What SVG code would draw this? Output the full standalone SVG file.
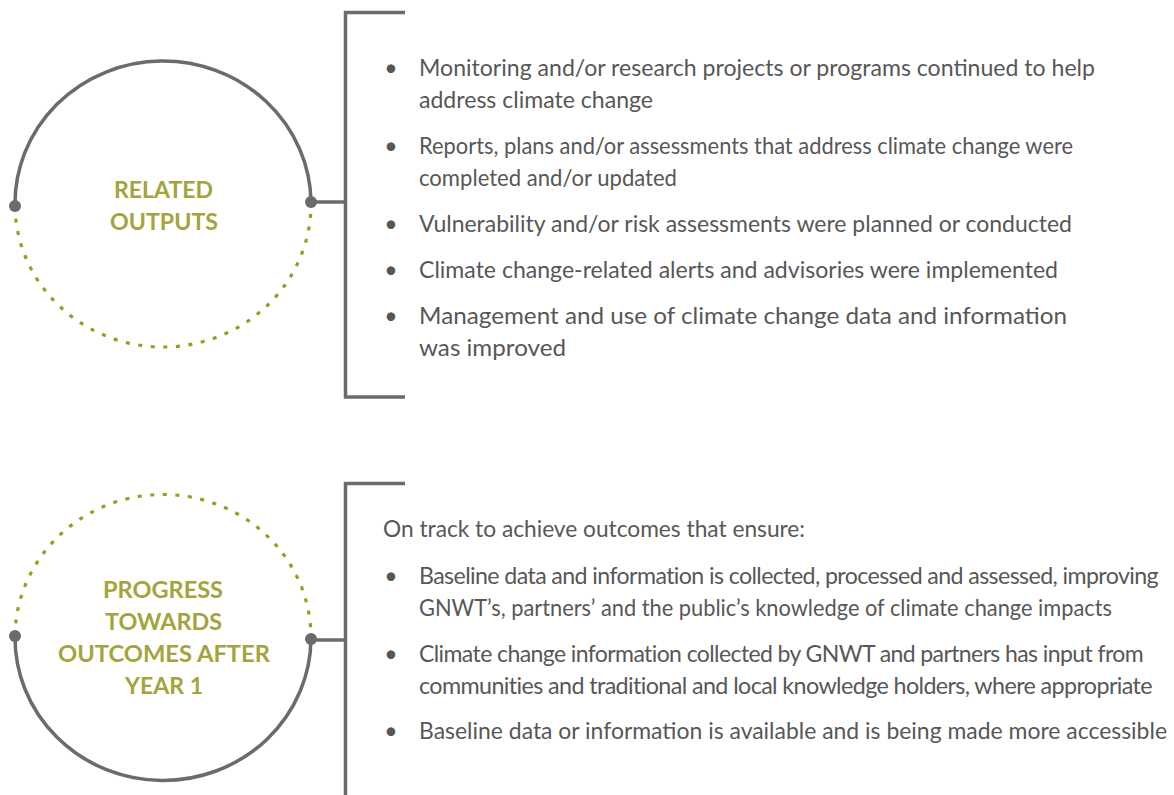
<svg xmlns="http://www.w3.org/2000/svg" width="1174" height="795" viewBox="0 0 1174 795">
  <style>
    .solid { fill: none; stroke: #6b6b6b; stroke-width: 3.5; }
    .dotted { fill: none; stroke: #9b9b20; stroke-width: 3.2; stroke-dasharray: 4 8.6; }
    .knob { fill: #6b6b6b; }
    .label { font-family: Lato, "Open Sans", "Liberation Sans", sans-serif; font-weight: 700; font-size: 22px; fill: #a3a43c; text-anchor: middle; }
    .body { font-family: Lato, "Open Sans", "Liberation Sans", sans-serif; font-size: 23px; fill: #575757; }
    .tight { letter-spacing: -0.6px; }
    .bullet { font-family: Lato, "Open Sans", "Liberation Sans", sans-serif; font-size: 23px; fill: #575757; text-anchor: middle; }
  </style>
  <rect width="1174" height="795" fill="#ffffff"/>

  <g id="connectors">
    <line class="solid" x1="311" y1="202" x2="346" y2="202"/>
    <line class="solid" x1="311" y1="640" x2="346" y2="640"/>
  </g>

  <g id="node-related-outputs">
    <path class="solid" d="M15 206 A148 143 0 0 1 311 202"/>
    <path class="dotted" d="M15 206 A148 143 0 0 0 311 202"/>
    <circle class="knob" cx="15" cy="206" r="6"/>
    <circle class="knob" cx="311" cy="202" r="6"/>
    <text class="label" x="163.5" y="198" textLength="99" lengthAdjust="spacingAndGlyphs">RELATED</text>
    <text class="label" x="164" y="230" textLength="108" lengthAdjust="spacingAndGlyphs">OUTPUTS</text>
  </g>

  <g id="node-outputs-list">
    <path class="solid" d="M405 12.5 H345.5 V397 H405"/>
    <text class="bullet" x="391" y="76">•</text>
    <text class="body" x="419" y="76" textLength="676" lengthAdjust="spacingAndGlyphs">Monitoring and/or research projects or programs continued to help</text>
    <text class="body" x="419" y="108" textLength="234" lengthAdjust="spacingAndGlyphs">address climate change</text>
    <text class="bullet" x="391" y="154">•</text>
    <text class="body" x="419" y="154" textLength="654" lengthAdjust="spacingAndGlyphs">Reports, plans and/or assessments that address climate change were</text>
    <text class="body" x="419" y="186" textLength="258" lengthAdjust="spacingAndGlyphs">completed and/or updated</text>
    <text class="bullet" x="391" y="232">•</text>
    <text class="body" x="419" y="232" textLength="653" lengthAdjust="spacingAndGlyphs">Vulnerability and/or risk assessments were planned or conducted</text>
    <text class="bullet" x="391" y="278">•</text>
    <text class="body" x="419" y="278" textLength="639" lengthAdjust="spacingAndGlyphs">Climate change-related alerts and advisories were implemented</text>
    <text class="bullet" x="391" y="324">•</text>
    <text class="body" x="419" y="324" textLength="648" lengthAdjust="spacingAndGlyphs">Management and use of climate change data and information</text>
    <text class="body" x="419" y="356" textLength="147" lengthAdjust="spacingAndGlyphs">was improved</text>
  </g>

  <g id="node-progress">
    <path class="dotted" d="M15 636 A148 143 0 0 1 311 639"/>
    <path class="solid" d="M15 636 A148 143 0 0 0 311 639"/>
    <circle class="knob" cx="15" cy="636" r="6"/>
    <circle class="knob" cx="311" cy="639" r="6"/>
    <text class="label" x="163" y="598" textLength="120" lengthAdjust="spacingAndGlyphs">PROGRESS</text>
    <text class="label" x="163.5" y="630" textLength="117" lengthAdjust="spacingAndGlyphs">TOWARDS</text>
    <text class="label" x="164" y="662" textLength="212" lengthAdjust="spacingAndGlyphs">OUTCOMES AFTER</text>
    <text class="label" x="164" y="694" textLength="78" lengthAdjust="spacingAndGlyphs">YEAR 1</text>
  </g>

  <g id="node-outcomes-list">
    <path class="solid" d="M405 483.5 H345.5 V800"/>
    <text class="body" x="383" y="537" textLength="422" lengthAdjust="spacingAndGlyphs">On track to achieve outcomes that ensure:</text>
    <text class="bullet" x="391" y="584">•</text>
    <text class="body tight" x="419" y="584" textLength="739" lengthAdjust="spacingAndGlyphs">Baseline data and information is collected, processed and assessed, improving</text>
    <text class="body" x="419" y="616" textLength="693" lengthAdjust="spacingAndGlyphs">GNWT’s, partners’ and the public’s knowledge of climate change impacts</text>
    <text class="bullet" x="391" y="662">•</text>
    <text class="body tight" x="419" y="662" textLength="724" lengthAdjust="spacingAndGlyphs">Climate change information collected by GNWT and partners has input from</text>
    <text class="body tight" x="419" y="694" textLength="733" lengthAdjust="spacingAndGlyphs">communities and traditional and local knowledge holders, where appropriate</text>
    <text class="bullet" x="391" y="739">•</text>
    <text class="body" x="419" y="739" textLength="748" lengthAdjust="spacingAndGlyphs">Baseline data or information is available and is being made more accessible</text>
  </g>
</svg>
